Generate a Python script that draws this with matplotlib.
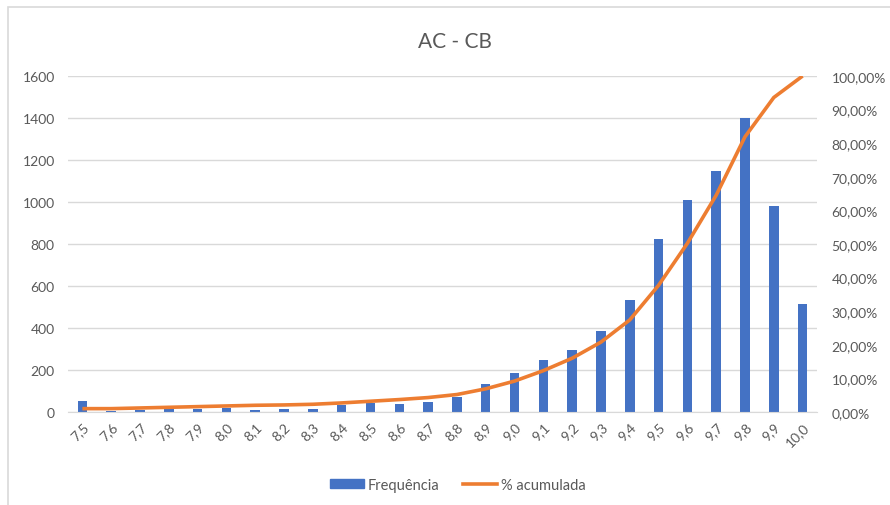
import matplotlib.pyplot as plt
import numpy as np
from matplotlib.patches import Rectangle
from matplotlib.lines import Line2D
from matplotlib.ticker import FuncFormatter

plt.rcParams['font.family'] = ['Lato', 'DejaVu Sans']

# data
notas = ['7,5', '7,6', '7,7', '7,8', '7,9', '8,0', '8,1', '8,2', '8,3', '8,4', '8,5', '8,6', '8,7',
         '8,8', '8,9', '9,0', '9,1', '9,2', '9,3', '9,4', '9,5', '9,6', '9,7', '9,8', '9,9', '10,0']
frequencia = [52, 5, 10, 12, 15, 20, 10, 14, 12, 33, 41, 37, 49,
              73, 135, 188, 248, 297, 387, 535, 822, 1008, 1146, 1398, 979, 514]
acumulada = [0.010, 0.010, 0.012, 0.014, 0.016, 0.018, 0.020, 0.021, 0.023, 0.027, 0.032, 0.037, 0.043,
             0.052, 0.069, 0.092, 0.123, 0.160, 0.208, 0.274, 0.377, 0.502, 0.645, 0.819, 0.936, 1.000]

azul = '#4472C4'
laranja = '#ED7D31'
cinza = '#595959'

fig = plt.figure(figsize=(8.9, 5.06), dpi=100)
W, H = 890, 506
ax = fig.add_axes([68 / W, (H - 413) / H, 749 / W, 336 / H])

# chart frame
fig.patches.append(Rectangle((8 / W, -0.1), 1.1, (H - 8) / H + 0.1, transform=fig.transFigure,
                             fill=False, edgecolor='#D9D9D9', linewidth=1.2))

x = np.arange(len(notas))
ax.bar(x, frequencia, width=0.33, color=azul, zorder=2)
ax.set_xlim(-0.5, len(notas) - 0.5)
ax.set_ylim(0, 1600)
ax.set_yticks(range(0, 1601, 200))
ax.yaxis.grid(True, color='#D9D9D9', linewidth=1)
ax.set_axisbelow(True)
for s in ['top', 'right', 'left']:
    ax.spines[s].set_visible(False)
ax.spines['bottom'].set_color('#D9D9D9')
ax.tick_params(axis='both', length=0, colors=cinza, labelsize=10)
ax.tick_params(axis='y', pad=9.5)
ax.set_xticks(x)
ax.set_xticklabels(notas, rotation=45, ha='right', rotation_mode='anchor')
ax.tick_params(axis='x', pad=6)

ax2 = ax.twinx()
ax2.plot(x, acumulada, color=laranja, linewidth=2.6, solid_capstyle='butt', zorder=3)
ax2.set_ylim(0, 1.0)
ax2.set_yticks(np.arange(0, 1.01, 0.1))
ax2.yaxis.set_major_formatter(FuncFormatter(lambda v, p: f'{v * 100:.2f}%'.replace('.', ',')))
for s in ['top', 'right', 'left', 'bottom']:
    ax2.spines[s].set_visible(False)
ax2.tick_params(axis='y', length=0, colors=cinza, labelsize=10, pad=10.5)

fig.text(455 / W, (H - 42) / H, 'AC - CB', ha='center', va='center', fontsize=15, color=cinza)

handles = [Rectangle((0, 0), 1, 1, color=azul), Line2D([], [], color=laranja, linewidth=2.6)]
fig.legend(handles, ['Frequência', '% acumulada'], loc='center', bbox_to_anchor=(458 / W, (H - 486) / H),
           ncol=2, frameon=False, fontsize=10.5, labelcolor=cinza, handlelength=2.3,
           handleheight=0.6, columnspacing=1.6, handletextpad=0.3)

fig.savefig('out.png', dpi=100)
